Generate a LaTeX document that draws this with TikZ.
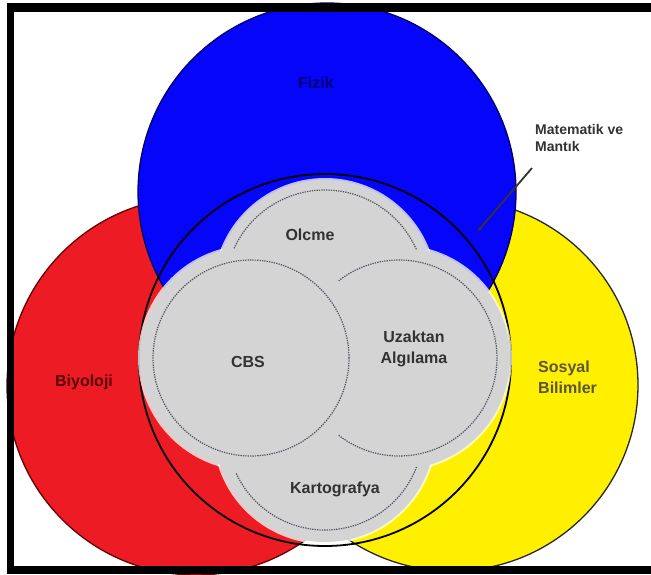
\documentclass[tikz,border=0pt]{standalone}
\usepackage{fontspec}
\setmainfont{Liberation Sans}
\usetikzlibrary{arrows.meta}
\definecolor{cred}{RGB}{237,28,36}
\definecolor{cyel}{RGB}{255,240,0}
\definecolor{cblue}{RGB}{5,5,250}
\definecolor{cgray}{RGB}{212,212,212}
\definecolor{cdot}{RGB}{80,82,100}
\definecolor{ctext}{RGB}{50,50,50}
\begin{document}
\begin{tikzpicture}[x=1pt,y=-1pt,
  lbl/.style={font=\fontsize{16}{21}\selectfont\bfseries, align=center, inner sep=0pt, text=ctext},
  sm/.style={font=\fontsize{14}{17}\selectfont\bfseries, align=left, inner sep=0pt, text=ctext},
  dotline/.style={draw=cdot, line width=1.2pt, dash pattern=on 1.3pt off 1.1pt},
  halo/.style={draw=white, draw opacity=0.75, line width=4pt},
  graylobe/.style={fill=cgray}]
\useasboundingbox (0,0) rectangle (651,574);
\fill[white] (0,0) rectangle (651,574);
% coloured discs
\filldraw[fill=cred, draw=red!40!black, line width=1.3pt] (196,386) circle[radius=189];
\filldraw[fill=cyel, draw=black!85, line width=1.3pt] (452,385) circle[radius=186];
\filldraw[fill=cblue, draw=blue!40!black, line width=1.3pt] (327,192) circle[radius=189];
% Matematik ve Mantik circle
\draw[black, line width=1.8pt] (325,360) circle[radius=186];
% pointer
\node[sm, anchor=west] (mm) at (535,138) {Matematik ve\\Mantık};
\coordinate (mmstart) at (532,168);
\coordinate (mmend) at (477,232);
\draw[line width=1.8pt, black!80, -{Latex[length=5pt,width=4pt]}] (mmstart) -- (mmend);
% grey cloverleaf
\draw[halo] (325,290) circle[radius=110];
\draw[halo] (325,432) circle[radius=110];
\draw[halo] (251,358) circle[radius=111];
\draw[halo] (399,358) circle[radius=111];
\fill[graylobe] (325,290) circle[radius=110];
\fill[graylobe] (325,432) circle[radius=110];
\fill[graylobe] (251,358) circle[radius=111];
\fill[graylobe] (399,358) circle[radius=111];
% dotted circles
\draw[dotline] (251,358) circle[radius=98];
\draw[dotline] ([shift={(128:98)}]399,358) arc[start angle=128, end angle=-128, radius=98];
\draw[dotline] ([shift={(-24:100)}]325,290) arc[start angle=-24, end angle=-156, radius=100];
\draw[dotline] ([shift={(155:98)}]325,432) arc[start angle=155, end angle=21, radius=98];
% labels
\node[lbl, text=blue!45!black] (fiz) at (316,83) {Fizik};
\node[lbl] (olc) at (310,235) {Olcme};
\node[lbl] (cbs) at (248,362) {CBS};
\node[lbl] (uz) at (414,349) {Uzaktan\\Algılama};
\node[lbl, text=red!35!black] (biy) at (84,382) {Biyoloji};
\node[lbl, align=left, anchor=west, text=black!75!yellow] (sos) at (538,377) {Sosyal\\Bilimler};
\node[lbl] (kart) at (335,489) {Kartografya};
% frame
\fill[black] (7,3) rectangle (14,574);
\fill[black] (7,3) rectangle (651,12);
\fill[black] (7,566) rectangle (651,574);
\end{tikzpicture}
\end{document}
